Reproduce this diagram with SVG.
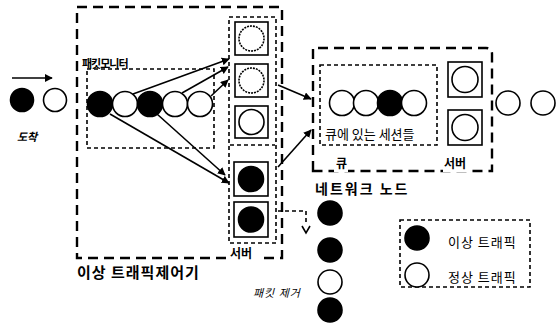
<svg xmlns="http://www.w3.org/2000/svg" width="556" height="327" viewBox="0 0 556 327">
<style>
.bg{fill:#fff}
.big{fill:none;stroke:#000;stroke-width:2.4;stroke-dasharray:10 6}
.small{fill:none;stroke:#000;stroke-width:1.6;stroke-dasharray:4 3}
.box{fill:#fff;stroke:#000;stroke-width:1.6}
.open{fill:#fff;stroke:#000;stroke-width:1.6}
.fill{fill:#000;stroke:#000;stroke-width:1.6}
.ln{fill:none;stroke:#000;stroke-width:1.6}
text{font-family:"Noto Sans CJK KR","Noto Sans",sans-serif;fill:#000}
.lbl{font-size:12px;font-weight:bold}
.biglbl{font-size:15px;font-weight:bold;letter-spacing:1px}
.it{font-style:italic}
.leg{font-size:13px;letter-spacing:1px}
</style>
<defs>
<marker id="ah" viewBox="0 0 10 10" refX="9" refY="5" markerWidth="8" markerHeight="8" markerUnits="userSpaceOnUse" orient="auto">
<path d="M0,0 L10,5 L0,10 Z" fill="#000"/>
</marker>
</defs>
<rect class="bg" x="0" y="0" width="556" height="327"/>

<g id="arrival">
<line class="ln" x1="12" y1="78" x2="52" y2="78" marker-end="url(#ah)"/>
<circle class="fill" cx="22" cy="100" r="11.5"/>
<circle class="open" cx="55" cy="100" r="11.5"/>
<text class="it" x="17" y="141" font-size="11" font-weight="bold">도착</text>
</g>

<g id="controller">
<rect class="big" x="77" y="7" width="205" height="251"/>
<text class="biglbl" x="77" y="278">이상 트래픽제어기</text>
</g>

<g id="monitor">
<rect class="small" x="87" y="69" width="127" height="79"/>
<text x="82" y="68" font-size="11" font-weight="bold" letter-spacing="-1">패킷모니터</text>
<circle class="fill" cx="100" cy="104" r="12.5"/>
<circle class="open" cx="125" cy="104" r="12.5"/>
<circle class="fill" cx="150" cy="104" r="12.5"/>
<circle class="open" cx="175" cy="104" r="12.5"/>
<circle class="open" cx="200" cy="104" r="12.5"/>
</g>

<g id="controller-servers">
<rect class="small" x="229" y="17" width="47" height="226"/>
<line class="small" x1="230" y1="145" x2="275" y2="145"/>
<rect class="box" x="235" y="22" width="33" height="33"/>
<circle class="open" cx="251.5" cy="38.5" r="12.5" stroke-dasharray="2 1"/>
<rect class="box" x="235" y="64" width="33" height="33"/>
<circle class="open" cx="251.5" cy="80.5" r="12.5" stroke-dasharray="2 1"/>
<rect class="box" x="235" y="106" width="33" height="32"/>
<circle class="open" cx="251.5" cy="122" r="12.5"/>
<rect class="box" x="234" y="162" width="34" height="34"/>
<circle class="fill" cx="251" cy="179" r="12.5"/>
<rect class="box" x="234" y="202" width="34" height="35"/>
<circle class="fill" cx="251" cy="219.5" r="12.5"/>
<rect x="229" y="246" width="30" height="14" fill="#fff"/>
<text class="lbl" x="230" y="258">서버</text>
</g>

<g id="network-node">
<path class="big" d="M313,171 L313,48 L486,48 Q492,48 492,54 L492,171 Z"/>
<rect class="small" x="320" y="65" width="117" height="80"/>
<circle class="open" cx="342" cy="103" r="12.5"/>
<circle class="open" cx="366" cy="103" r="12.5"/>
<circle class="fill" cx="390" cy="103" r="12.5"/>
<circle class="open" cx="414" cy="103" r="12.5"/>
<text x="325" y="139" font-size="13">큐에 있는 세션들</text>
<rect class="box" x="448" y="62" width="34" height="35"/>
<circle class="open" cx="465" cy="79.5" r="13"/>
<rect class="box" x="448" y="110" width="34" height="35"/>
<circle class="open" cx="465" cy="127.5" r="13"/>
<rect x="334" y="156" width="14" height="16" fill="#fff"/>
<text class="lbl" x="336" y="168">큐</text>
<rect x="443" y="156" width="24" height="16" fill="#fff"/>
<text class="lbl" x="444" y="168">서버</text>
<text x="315" y="194" font-size="14" font-weight="bold" letter-spacing="2">네트워크 노드</text>
</g>

<g id="output">
<circle class="open" cx="508" cy="103" r="12"/>
<circle class="open" cx="543" cy="103" r="12"/>
</g>

<g id="dropped">
<circle class="fill" cx="330" cy="213" r="12"/>
<circle class="fill" cx="330" cy="250" r="12"/>
<circle class="open" cx="330" cy="282" r="12"/>
<circle class="fill" cx="330" cy="310" r="12"/>
<text class="it" x="253" y="297" font-size="11" letter-spacing="1">패킷 제거</text>
</g>

<g id="legend">
<rect class="small" x="400" y="220" width="130" height="67"/>
<circle class="fill" cx="417" cy="238" r="12"/>
<text class="leg" x="448" y="247">이상 트래픽</text>
<circle class="open" cx="417" cy="275" r="12"/>
<text class="leg" x="448" y="282">정상 트래픽</text>
</g>

<g id="connectors">
<line class="ln" x1="133" y1="94" x2="229" y2="59" marker-end="url(#ah)"/>
<line class="ln" x1="182" y1="93" x2="228" y2="67" marker-end="url(#ah)"/>
<line class="ln" x1="211" y1="96" x2="228" y2="80" marker-end="url(#ah)"/>
<line class="ln" x1="110" y1="114" x2="229" y2="183" marker-end="url(#ah)"/>
<line class="ln" x1="157" y1="114" x2="225" y2="175" marker-end="url(#ah)"/>
<line class="ln" x1="278" y1="85" x2="311" y2="99" marker-end="url(#ah)"/>
<line class="ln" x1="278" y1="167" x2="311" y2="130" marker-end="url(#ah)"/>
<polyline class="ln" points="278,211 306,211 306,224" stroke-dasharray="4 3"/>
<polyline class="ln" points="302,226 306,233 310,226"/>
</g>
</svg>
